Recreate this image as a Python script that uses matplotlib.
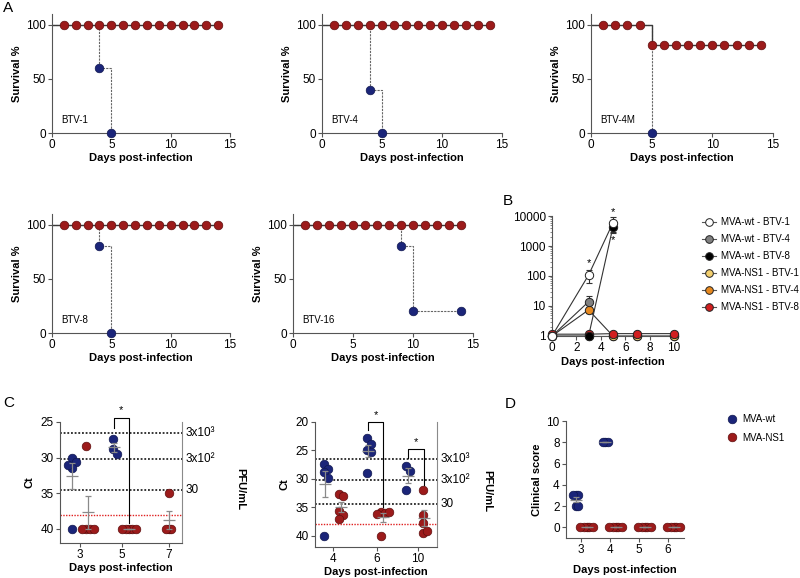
import numpy as np
import matplotlib
matplotlib.use("Agg")
import matplotlib.pyplot as plt
from matplotlib.lines import Line2D

plt.rcParams['font.family'] = ['Liberation Sans', 'DejaVu Sans']

# ---- data ----
# Panel A: survival (%), MVA-wt (blue) and MVA-NS1 (red)
surv_titles = ['BTV-1', 'BTV-4', 'BTV-4M', 'BTV-8', 'BTV-16']
wt_days = [[4, 5], [4, 5], [5], [4, 5], [9, 10, 14]]
wt_surv = [[60, 0], [40, 0], [0], [80, 0], [80, 20, 20]]
ns1_days = list(range(1, 15))
ns1_surv = [[100] * 14, [100] * 14, [100] * 4 + [81] * 10, [100] * 14, [100] * 14]

# Panel B: viremia
b_names = ['MVA-wt - BTV-1', 'MVA-wt - BTV-4', 'MVA-wt - BTV-8',
           'MVA-NS1 - BTV-1', 'MVA-NS1 - BTV-4', 'MVA-NS1 - BTV-8']
b_days = [[0, 3, 5], [0, 3], [0, 3, 5], [0, 3, 5, 7, 10], [0, 3, 5, 7, 10], [0, 3, 5, 7, 10]]
b_vals = [[1, 108, 6000], [1, 13.9], [1, 1, 4400],
          [1, 1, 1, 1, 1], [1, 7.4, 1, 1, 1], [1.15, 1.15, 1.2, 1.2, 1.2]]
b_err = [[0, 50, 3300], [0, 8], [0, 0, 1400], [0] * 5, [0] * 5, [0] * 5]
b_colors = ['white', '#808080', 'black', '#f3cf6e', '#e8891e', '#d11f1f']
b_stars = [(3, 280), (5, 13500), (5, 1600)]

# Panel C: Ct values
c1_days = ['3', '5', '7']
c1_wt = [[30.1, 30.6, 31.4, 31.0, 40.0], [27.4, 28.8, 29.5], []]
c1_ns1 = [[28.4, 40, 40, 40, 40], [40, 40, 40, 40, 40], [35.0, 40, 40, 40]]
c2_days = ['4', '6', '10']
c2_wt = [[27.4, 28.2, 28.8, 29.9, 40.0], [22.9, 23.8, 24.9, 25.2, 29.0], [27.8, 28.6, 32.0]]
c2_ns1 = [[32.6, 33.1, 35.7, 36.3, 37.0], [35.8, 36.0, 36.2, 35.9, 40.1],
          [31.9, 36.4, 37.7, 39.6, 39.1]]
pfu_ct = [26.6, 30.2, 34.5]
pfu_labels = ['3x10³', '3x10²', '30']
ct_cutoff = 38.0

# Panel D: clinical score
d_days = [3, 4, 5, 6]
d_wt = [[3, 3, 3, 2, 2], [8, 8, 8], [], []]
d_ns1 = [[0] * 5, [0] * 5, [0] * 5, [0] * 5]

BLUE = '#1b2579'
BLUE_E = '#10174f'
RED = '#9c1b1b'
RED_E = '#5e0e0e'
GREY = '#555555'

W, H = 800, 578
fig = plt.figure(figsize=(W / 100, H / 100), dpi=100)


def rect(L, R, T, B):
    return [L / W, 1 - B / H, (R - L) / W, (B - T) / H]


def style(ax, size=8):
    for s in ['top', 'right']:
        ax.spines[s].set_visible(False)
    for s in ['left', 'bottom']:
        ax.spines[s].set_color(GREY)
        ax.spines[s].set_linewidth(0.8)
    ax.tick_params(length=3, width=0.8, color=GREY, labelsize=size, pad=1.5)


def bold_labels(ax, xl, yl, xpad=2, ypad=2):
    ax.set_xlabel(xl, fontsize=8, fontweight='bold', labelpad=xpad)
    if yl:
        ax.set_ylabel(yl, fontsize=8, fontweight='bold', labelpad=ypad)


# ---- Panel A ----
a_rects = [rect(52, 230, 14, 133), rect(322, 502, 14, 133), rect(591, 773, 14, 133),
           rect(52, 230, 214, 333), rect(293, 473, 214, 333)]
for i in range(5):
    ax = fig.add_axes(a_rects[i])
    ax.plot([0] + wt_days[i], [100] + wt_surv[i], drawstyle='steps-post',
            ls=(0, (2, 1)), color='#666666', lw=0.8, zorder=1)
    ax.plot([0] + ns1_days, [100] + ns1_surv[i], drawstyle='steps-post',
            color='#3a3a3a', lw=1.0, zorder=2)
    ax.plot(wt_days[i], wt_surv[i], 'o', ms=6.2, color=BLUE, mec=BLUE_E, mew=0.5,
            zorder=3, clip_on=False)
    ax.plot(ns1_days, ns1_surv[i], 'o', ms=6.2, color=RED, mec=RED_E, mew=0.5,
            zorder=4, clip_on=False)
    ax.set_xlim(0, 15)
    ax.set_ylim(0, 110)
    ax.set_xticks([0, 5, 10, 15])
    ax.set_yticks([0, 50, 100])
    style(ax, 8.5)
    ax.text(0.8, 12, surv_titles[i], fontsize=7, va='center')
    bold_labels(ax, 'Days post-infection', 'Survival %', 1, 3)

# ---- Panel B ----
ax = fig.add_axes(rect(552, 674, 216, 336))
for i in range(6):
    ax.errorbar(b_days[i], b_vals[i], yerr=b_err[i], fmt='none', ecolor='#333333',
                elinewidth=0.8, capsize=2.5, capthick=0.8, zorder=2)
order = [4, 3, 5, 2, 1, 0]
for i in order:
    ax.plot(b_days[i], b_vals[i], '-', color='#333333', lw=0.8, zorder=3)
for k, i in enumerate(order):
    ax.plot(b_days[i], b_vals[i], 'o', ms=6, mfc=b_colors[i], mec='#222222', mew=0.7,
            zorder=4 + k, clip_on=False, lw=0)
for x, y in b_stars:
    ax.text(x, y, '*', fontsize=8, ha='center', va='center')
ax.set_yscale('log')
ax.set_xlim(0, 10)
ax.set_ylim(1, 10000)
ax.set_xticks([0, 2, 4, 6, 8, 10])
ax.set_yticks([1, 10, 100, 1000, 10000])
ax.set_yticklabels(['1', '10', '100', '1000', '10000'])
style(ax, 8.5)
ax.tick_params(which='minor', length=1.5, width=0.5, color=GREY)
bold_labels(ax, 'Days post-infection', None, 2)
handles = [Line2D([], [], color='#555555', lw=0.8, marker='o', ms=5.5, mfc=c,
                  mec='#222222', mew=0.7) for c in b_colors]
ax.legend(handles, b_names, loc='upper left', bbox_to_anchor=(702 / W, 1 - 217 / H),
          bbox_transform=fig.transFigure, frameon=False, fontsize=7, handlelength=1.4,
          handletextpad=0.6, labelspacing=0.72, borderaxespad=0, borderpad=0)


# ---- swarm helper: spread points that sit at about the same height ----
def swarm(ax, xc, vals, diam=8.6):
    tr = ax.transData
    placed = []
    for v in vals:
        cx, cy = tr.transform((xc, v))
        done = False
        for k in range(60):
            for s in ([0] if k == 0 else [1, -1]):
                px = cx + s * k * diam * 0.15
                clash = any(abs(cy - qy) < 0.8 * diam and abs(px - qx) < 0.3 * diam
                            for qx, qy in placed)
                if not clash:
                    placed.append((px, cy))
                    done = True
                    break
            if done:
                break
    pxs = np.array([p[0] for p in placed])
    pxs = pxs - (pxs.mean() - tr.transform((xc, 0))[0])
    inv = tr.inverted()
    return np.array([inv.transform((p, 0))[0] for p in pxs])


def dot_group(ax, xc, vals, color, ecolor):
    if len(vals) == 0:
        return
    xs = swarm(ax, xc, vals)
    ax.plot(xs, vals, 'o', ms=6.2, color=color, mec=ecolor, mew=0.5, zorder=3,
            clip_on=False, lw=0)
    m = np.mean(vals)
    sem = np.std(vals, ddof=1) / np.sqrt(len(vals)) if len(vals) > 1 else 0
    ax.errorbar([xc], [m], yerr=[sem], fmt='none', ecolor='#8a8a8a', elinewidth=0.9,
                capsize=2.5, capthick=0.9, zorder=4)
    ax.plot([xc], [m], marker='_', ms=9, mew=0.9, color='#8a8a8a', zorder=4)


def ct_panel(ax, ticks, days, wt, ns1, offs_wt, offs_ns, xlim, ylim, brackets, pfu_x):
    ax.set_xlim(*xlim)
    ax.set_ylim(*ylim)
    for y in pfu_ct:
        ax.axhline(y, color='black', ls=(0, (1.2, 1.2)), lw=1.1, zorder=1)
    ax.axhline(ct_cutoff, color='#e02020', ls=(0, (1, 1)), lw=1.0, zorder=1)
    for j in range(len(days)):
        dot_group(ax, ticks[j] + offs_wt[j], wt[j], BLUE, BLUE_E)
        dot_group(ax, ticks[j] + offs_ns[j], ns1[j], RED, RED_E)
    for j, top in brackets:
        xl = ticks[j] + offs_wt[j]
        xr = ticks[j] + offs_ns[j]
        ax.plot([xl, xl, xr, xr], [min(wt[j]) - 1.5, top, top, min(ns1[j]) - 0.8],
                color='black', lw=0.8, clip_on=False, zorder=5)
        ax.text((xl + xr) / 2, top - 0.4, '*', fontsize=8, ha='center', va='bottom')
    ax.set_xticks(ticks)
    ax.set_xticklabels(days)
    style(ax, 8.5)
    ax.spines['right'].set_visible(True)
    ax.spines['right'].set_color('#8a8a8a')
    ax.spines['right'].set_linewidth(0.8)
    for y, lab in zip(pfu_ct, pfu_labels):
        ax.text(1.025, y, lab, transform=ax.get_yaxis_transform(), fontsize=8.5,
                va='center', ha='left')
    ax.text(pfu_x, 0.45, 'PFU/mL', transform=ax.transAxes, rotation=-90, fontsize=8,
            fontweight='bold', va='center', ha='center')
    bold_labels(ax, 'Days post-infection', 'Ct', 1, 4)


# ---- Panel C ----
ax = fig.add_axes(rect(60, 182, 422, 543))
ct_panel(ax, [0, 0.955, 2.02], c1_days, c1_wt, c1_ns1, [-0.18, -0.18, 0], [0.18, 0.16, 0],
         (-0.45, 2.32), (42, 25), [(1, 24.4)], 1.475)
ax.set_yticks([25, 30, 35, 40])

ax = fig.add_axes(rect(315, 437, 422, 547))
ct_panel(ax, [0, 1.02, 1.98], c2_days, c2_wt, c2_ns1, [-0.18, -0.2, -0.24], [0.18, 0.14, 0.14],
         (-0.42, 2.42), (42, 20), [(1, 20.0), (2, 24.8)], 1.41)
ax.set_yticks([20, 25, 30, 35, 40])

# ---- Panel D ----
ax = fig.add_axes(rect(566, 684, 421, 538))
ax.set_xlim(2.48, 6.55)
ax.set_ylim(-1, 10)
for j in range(len(d_days)):
    dot_group(ax, d_days[j] - 0.17, d_wt[j], BLUE, BLUE_E)
    dot_group(ax, d_days[j] + 0.2, d_ns1[j], RED, RED_E)
ax.set_xticks(d_days)
ax.set_yticks([0, 2, 4, 6, 8, 10])
style(ax, 8.5)
bold_labels(ax, 'Days post-infection', 'Clinical score', 6, 3)
dh = [Line2D([], [], ls='none', marker='o', ms=6.2, color=BLUE, mec=BLUE_E, mew=0.5),
      Line2D([], [], ls='none', marker='o', ms=6.2, color=RED, mec=RED_E, mew=0.5)]
ax.legend(dh, ['MVA-wt', 'MVA-NS1'], loc='upper left', bbox_to_anchor=(727 / W, 1 - 414 / H),
          bbox_transform=fig.transFigure, frameon=False, fontsize=7, handlelength=1.0,
          handletextpad=0.6, labelspacing=0.9, borderaxespad=0, borderpad=0)

# ---- panel letters ----
for lab, x, y in [('A', 3, 1), ('B', 503, 194), ('C', 3, 396), ('D', 505, 397)]:
    fig.text(x / W, 1 - y / H, lab, fontsize=11, va='top', ha='left')

fig.savefig('out.png', dpi=100)
